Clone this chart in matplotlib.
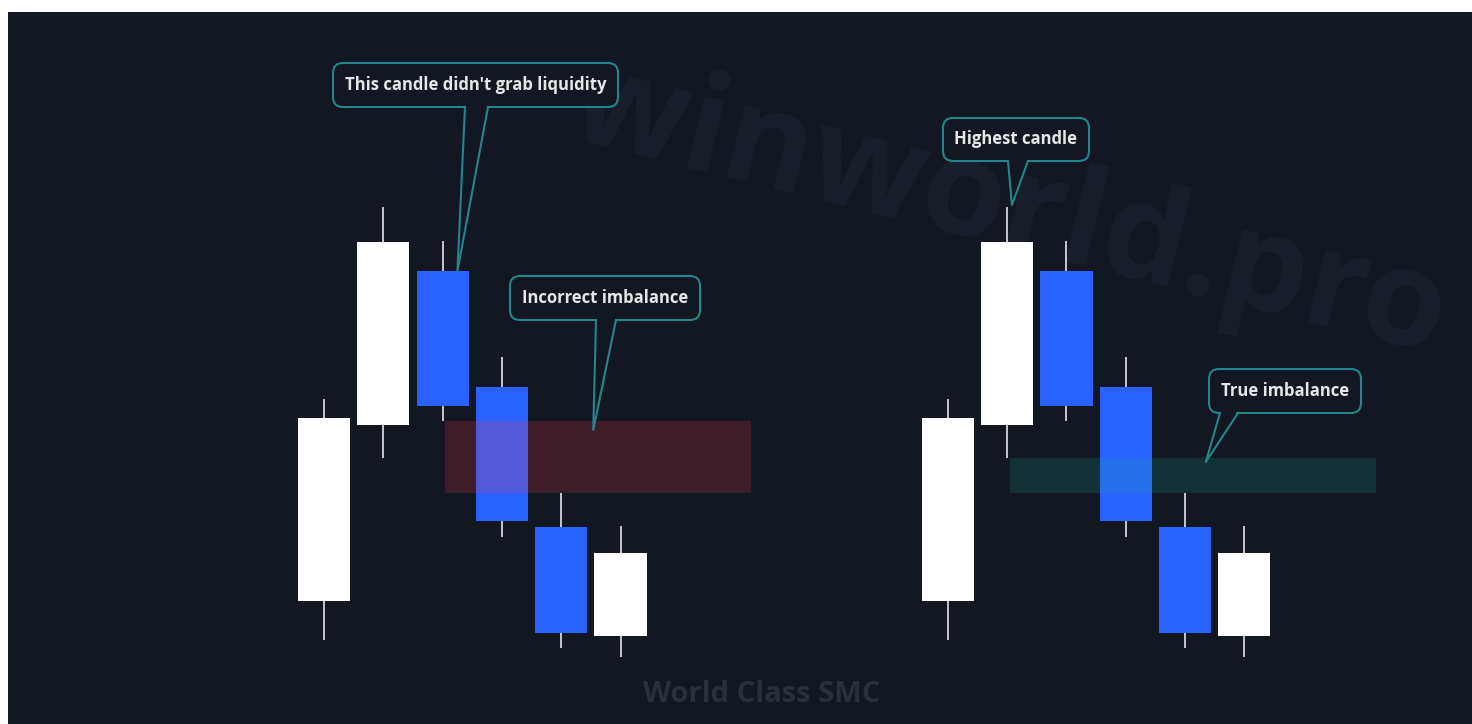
import numpy as np
import matplotlib.pyplot as plt
from matplotlib.patches import FancyBboxPatch, Polygon, Rectangle

# candle data (same six candles shown twice)
opens = [123, 299, 453, 337, 197, 88]
highs = [325, 517, 483, 367, 231, 198]
lows = [84, 266, 303, 187, 76, 67]
closes = [306, 482, 318, 203, 91, 171]

left_x = np.arange(6)
right_x = np.arange(6) + 10.52

labels = ["This candle didn't grab liquidity", "Incorrect imbalance",
          "Highest candle", "True imbalance"]

BG = "#131722"
BULL = "#ffffff"
BEAR = "#2962ff"
WICK = "#d1d4dc"
TEAL = "#23868a"

fig = plt.figure(figsize=(14.72, 7.24), dpi=100, facecolor="white")
ax = fig.add_axes([8 / 1472, 0, 1464 / 1472, 712 / 724])
ax.set_facecolor(BG)
ax.set_xlim(-5.329, 19.359)
ax.set_ylim(0, 712)
ax.axis("off")
ax.add_patch(Rectangle((0, 0), 1, 1, transform=ax.transAxes, color=BG, zorder=-5))


def draw_candles(xs):
    for x, o, h, l, c in zip(xs, opens, highs, lows, closes):
        col = BULL if c >= o else BEAR
        ax.vlines(x, l, h, color=WICK, lw=1.3, zorder=2)
        ax.bar(x, abs(c - o), bottom=min(o, c), width=0.88, color=col, zorder=3)


draw_candles(left_x)
draw_candles(right_x)

# imbalance zones
ax.add_patch(Rectangle((left_x[2] + 0.04, highs[4]), 7.2 - left_x[2] - 0.04, lows[2] - highs[4],
                       facecolor="#f23645", alpha=0.2, lw=0, zorder=4))
ax.add_patch(Rectangle((right_x[1] + 0.04, highs[4]), 17.74 - right_x[1] - 0.04, lows[1] - highs[4],
                       facecolor="#0aa58b", alpha=0.19, lw=0, zorder=4))

# watermarks
ax.text(0.684, 0.72, "winworld.pro", transform=ax.transAxes, ha="center", va="center",
        fontsize=97, fontweight="bold", family="Open Sans", color="#1b1f2b",
        rotation=-14, zorder=0)
ax.text(0.515, 0.042, "World Class SMC", transform=ax.transAxes, ha="center", va="center",
        fontsize=21, fontweight="bold", family="Open Sans", color="#2b2f3b", zorder=1)

# overlay in pixel space for callouts
ov = fig.add_axes([0, 0, 1, 1], facecolor="none")
ov.set_xlim(0, 1472)
ov.set_ylim(724, 0)
ov.axis("off")
ov.set_zorder(5)

callouts = [
    (labels[0], (333, 63, 618, 107), (465, 488), (left_x[2] + 0.25, opens[2])),
    (labels[1], (510, 276, 700, 320), (596, 616), (left_x[4] + 0.54, 294)),
    (labels[2], (943, 118, 1089, 161), (1008, 1028), (right_x[1] + 0.08, highs[1] + 2)),
    (labels[3], (1209, 369, 1361, 413), (1220, 1238), (right_x[4] + 0.35, 262)),
]

to_px = ax.transData + ov.transData.inverted()
for text, (x0, y0, x1, y1), (xa, xb), tip in callouts:
    tx, ty = to_px.transform(tip)
    ov.add_patch(FancyBboxPatch((x0, y0), x1 - x0, y1 - y0,
                                boxstyle="round,pad=0,rounding_size=10",
                                facecolor=BG, edgecolor=TEAL, lw=1.5, zorder=6))
    ov.add_patch(Polygon([(xa, y1 - 3), (xb, y1 - 3), (tx, ty)], closed=True,
                         facecolor=BG, edgecolor="none", zorder=7))
    ov.plot([xa, tx, xb], [y1, ty, y1], color=TEAL, lw=1.5, zorder=8)
    ov.text((x0 + x1) / 2, (y0 + y1) / 2, text, ha="center", va="center",
            fontsize=12, fontweight="bold", family="Open Sans", color="#e6e6e6", zorder=9)

fig.savefig("out.png", dpi=100, facecolor="white")
